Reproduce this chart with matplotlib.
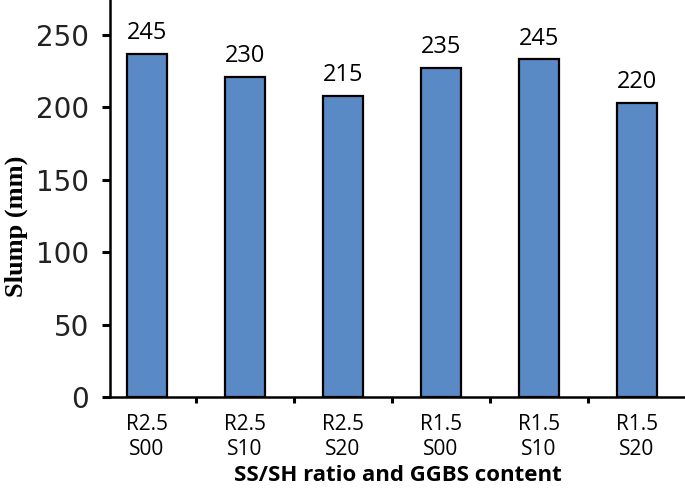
import numpy as np
import matplotlib.pyplot as plt

# Mix labels and the values printed above each bar
mixes = ['R2.5\nS00', 'R2.5\nS10', 'R2.5\nS20', 'R1.5\nS00', 'R1.5\nS10', 'R1.5\nS20']
# bar heights as drawn in the picture (mm)
bar_height = [237, 221, 208, 227, 233, 203]
# numbers written above the bars
bar_text = ['245', '230', '215', '235', '245', '220']

fig = plt.figure(figsize=(6.85, 4.92), dpi=100)
ax = fig.add_axes([110 / 685, 1 - 397 / 492, 1 - 110 / 685, 397 / 492])

x = np.arange(len(mixes))
bars = ax.bar(x, bar_height, width=0.40, color='#5A8AC6', edgecolor='black', linewidth=1.6)

# labels above the bars
for xi, h, t in zip(x, bar_height, bar_text):
    ax.text(xi, h + 6, t, ha='center', va='bottom', fontsize=17, family='Open Sans')

ax.set_xlim(-0.378, 5.49)
ax.set_ylim(0, 274)

# category labels without ticks, tick marks between categories
ax.set_xticks(x)
ax.set_xticklabels(mixes, fontsize=15, family='Open Sans', linespacing=1.3)
ax.tick_params(axis='x', which='major', length=0, pad=12)
ax.set_xticks(x[:-1] + 0.5, minor=True)
ax.tick_params(axis='x', which='minor', direction='out', length=4, width=2.2)

ax.set_yticks(np.arange(0, 251, 50))
ax.tick_params(axis='y', direction='out', length=6, width=2.2, pad=9, labelsize=20)
for lab in ax.get_yticklabels():
    lab.set_family('DejaVu Sans')
    lab.set_color('#222222')

for side in ['top', 'right']:
    ax.spines[side].set_visible(False)
ax.spines['left'].set_linewidth(1.8)
ax.spines['bottom'].set_linewidth(1.8)

ax.set_ylabel('Slump (mm)', family='Liberation Serif', fontweight='bold', fontsize=19)
ax.yaxis.set_label_coords(-0.142, 0.43)
ax.set_xlabel('SS/SH ratio and GGBS content', family='Open Sans', fontweight='bold',
              fontsize=16, labelpad=3)

fig.savefig('out.png', dpi=100)
